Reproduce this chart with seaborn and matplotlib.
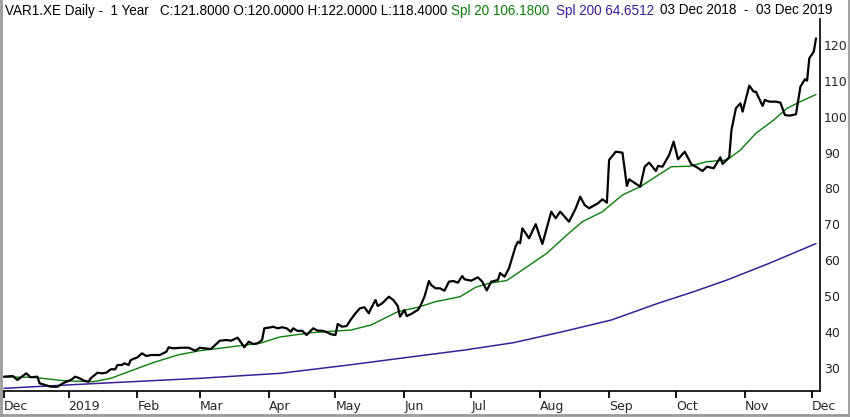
import pandas as pd
import seaborn as sns
import matplotlib.pyplot as plt
from matplotlib.lines import Line2D

start = pd.Timestamp('2018-12-03')

# daily close (days counted from 03 Dec 2018)
close_days = [0, 4, 6, 10, 12, 15, 16, 21, 24, 27, 30, 32, 34, 36, 38, 39, 42, 44, 46, 48,
              50, 51, 53, 54, 56, 57, 60, 62, 64, 66, 70, 73, 74, 76, 80, 83, 86, 88, 90, 93,
              97, 100, 102, 105, 106, 108, 110, 112, 114, 116, 117, 120, 121, 123, 125, 127,
              129, 130, 132, 134, 136, 139, 141, 143, 145, 147, 149, 150, 152, 154, 156, 158,
              160, 162, 164, 165, 167, 168, 170, 173, 175, 177, 178, 180, 181, 183, 186, 187,
              189, 191, 192, 194, 196, 198, 200, 202, 204, 206, 207, 210, 213, 215, 217, 219,
              222, 223, 225, 227, 230, 231, 232, 233, 236, 239, 242, 246, 248, 250, 254, 257,
              259, 261, 263, 267, 269, 271, 272, 275, 278, 280, 281, 286, 288, 290, 293, 294,
              296, 299, 301, 303, 306, 309, 311, 314, 316, 319, 322, 323, 326, 327, 329, 331,
              332, 335, 337, 338, 341, 342, 344, 347, 349, 351, 353, 356, 358, 360, 361, 362,
              364, 365]
close = [27.58, 27.77, 26.66, 28.52, 27.41, 27.58, 25.74, 24.79, 24.79, 25.91, 26.66, 27.58,
         27.13, 26.46, 26.18, 27.13, 28.69, 28.52, 28.69, 29.64, 29.64, 30.84, 30.84, 31.31,
         30.84, 32.23, 32.98, 34.09, 33.34, 33.62, 33.62, 34.54, 35.77, 35.49, 35.65, 35.65,
         34.82, 35.65, 35.49, 35.29, 37.60, 37.80, 37.60, 38.44, 37.60, 35.77, 37.33, 36.69,
         36.88, 37.80, 41.06, 41.34, 41.50, 41.06, 41.34, 41.06, 40.11, 41.06, 40.31, 40.39,
         39.19, 41.06, 40.39, 40.39, 40.03, 39.39, 39.19, 42.26, 41.50, 41.70, 43.57, 45.24,
         46.63, 46.91, 45.24, 46.63, 48.94, 47.27, 48.02, 49.86, 48.94, 47.27, 44.29, 46.16,
         44.48, 45.04, 46.16, 47.07, 49.86, 54.23, 53.12, 52.20, 52.20, 51.53, 54.04, 54.23,
         53.76, 55.63, 54.71, 54.32, 55.26, 54.04, 51.60, 54.04, 54.51, 56.46, 55.43, 57.77,
         63.98, 65.18, 64.74, 68.91, 66.13, 70.06, 64.54, 73.54, 71.70, 73.54, 70.75, 74.48,
         77.72, 75.40, 74.48, 75.88, 76.99, 76.04, 87.94, 90.25, 89.97, 80.70, 82.56, 80.50,
         86.07, 87.19, 84.87, 86.27, 86.07, 89.33, 93.04, 88.13, 90.25, 86.69, 86.07, 84.87,
         86.07, 85.63, 88.69, 86.82, 88.69, 96.29, 102.34, 103.73, 101.39, 108.64, 106.96,
         106.96, 102.98, 104.65, 104.18, 104.18, 103.90, 100.47, 100.28, 100.67, 108.36,
         110.42, 110.03, 116.27, 118.11, 121.80]

# Spl 20 line
spl20_days = [0, 13, 27, 40, 48, 58, 67, 78, 88, 97, 106, 115, 124, 138, 156, 165, 177, 186,
              194, 205, 212, 218, 226, 233, 244, 253, 260, 269, 278, 286, 293, 300, 308, 316,
              325, 331, 338, 346, 352, 358, 365]
spl20 = [27.49, 27.41, 26.46, 26.18, 27.13, 29.44, 31.48, 33.62, 34.82, 35.49, 36.21, 36.88,
         38.64, 39.83, 40.58, 41.98, 45.68, 46.91, 48.47, 49.86, 52.48, 53.59, 54.37, 57.30,
         61.95, 67.05, 70.75, 73.54, 78.19, 80.50, 83.29, 86.07, 86.18, 87.46, 87.94, 90.72,
         95.38, 99.08, 102.34, 104.18, 106.18]

# Spl 200 line
spl200_days = [0, 43, 88, 124, 155, 186, 207, 229, 251, 273, 294, 310, 325, 344, 365]
spl200 = [24.35, 25.74, 27.13, 28.52, 30.84, 33.34, 35.00, 37.05, 40.10, 43.37, 48.02, 51.25,
          54.51, 59.16, 64.65]

month_ticks = ['2018-12-03', '2019-01-01', '2019-02-01', '2019-03-01', '2019-04-01',
               '2019-05-01', '2019-06-01', '2019-07-01', '2019-08-01', '2019-09-01',
               '2019-10-01', '2019-11-01', '2019-12-01']
month_labels = ['Dec', '2019', 'Feb', 'Mar', 'Apr', 'May', 'Jun', 'Jul', 'Aug', 'Sep',
                'Oct', 'Nov', 'Dec']
price_ticks = [30, 40, 50, 60, 70, 80, 90, 100, 110, 120]

df_close = pd.DataFrame({'date': start + pd.to_timedelta(close_days, unit='D'), 'value': close})
df_20 = pd.DataFrame({'date': start + pd.to_timedelta(spl20_days, unit='D'), 'value': spl20})
df_200 = pd.DataFrame({'date': start + pd.to_timedelta(spl200_days, unit='D'), 'value': spl200})

sns.set_style('white')
plt.rcParams['font.family'] = ['DejaVu Sans']

W, H = 850, 417
fig = plt.figure(figsize=(W / 100, H / 100), dpi=100)
ax = fig.add_axes([3 / W, 26.3 / H, 817 / W, 371.7 / H])

sns.lineplot(data=df_200, x='date', y='value', color='#3a1f96', lw=1.1, ax=ax)
sns.lineplot(data=df_20, x='date', y='value', color='#0b7d0b', lw=1.0, ax=ax)
sns.lineplot(data=df_close, x='date', y='value', color='black', lw=1.6, ax=ax)

ax.set_xlim(start - pd.Timedelta(hours=11), start + pd.Timedelta(days=366.8))
ax.set_ylim(23.68, 127.2)
ax.set_xlabel('')
ax.set_ylabel('')

ax.set_xticks(pd.to_datetime(month_ticks))
ax.set_xticklabels(month_labels, ha='left')
ax.tick_params(axis='x', direction='out', length=5, width=1.3, color='black',
               labelsize=9, pad=2, bottom=True)
ax.yaxis.tick_right()
ax.set_yticks(price_ticks)
ax.tick_params(axis='y', length=0, labelsize=9, pad=3)

for s in ['top', 'left']:
    ax.spines[s].set_visible(False)
for s in ['right', 'bottom']:
    ax.spines[s].set_color('black')
    ax.spines[s].set_linewidth(1.2)

# header line: pieces in a row, each after the one before
ty = 1 - 10.5 / H
header = [
    ('VAR1.XE Daily -  1 Year   C:121.8000 O:120.0000 H:122.0000 L:118.4000', 'black', 0),
    ('Spl 20 106.1800', '#0b7d0b', 4),
    ('Spl 200 64.6512', '#3a1f96', 6),
    ('03 Dec 2018  -  03 Dec 2019', 'black', 6),
]
texts = [fig.text(0, ty, s, family='Liberation Sans', fontsize=10, va='center', color=c)
         for s, c, _ in header]

fig.canvas.draw()
r = fig.canvas.get_renderer()
size = 10 * 444 / texts[0].get_window_extent(r).width
for t in texts:
    t.set_fontsize(size)
x = 5
for t, (_, _, gap) in zip(texts, header):
    x += gap
    t.set_x(x / W)
    x += t.get_window_extent(r).width

# grey frame round the picture
for xs, ys in [([1 / W, 1 / W], [0, 1]), ([0, 1], [2 / H, 2 / H]), ([1 - 1 / W, 1 - 1 / W], [0, 1])]:
    fig.add_artist(Line2D(xs, ys, color='#9a9a9a', lw=2))

fig.savefig('out.png', dpi=100)
